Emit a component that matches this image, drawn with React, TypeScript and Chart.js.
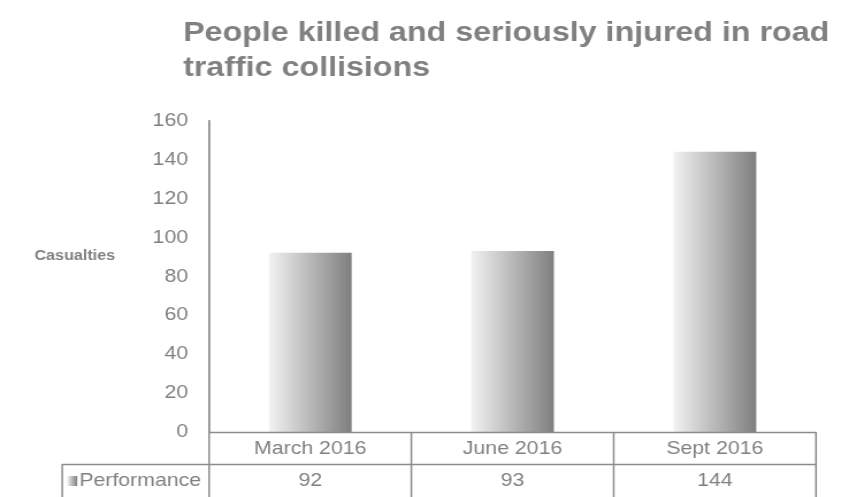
import React, { useEffect, useRef } from "react";
import { Chart, registerables } from "chart.js";

Chart.register(...registerables);

const TITLE_LINES = ["People killed and seriously injured in road", "traffic collisions"];
const Y_TITLE = "Casualties";
const CATEGORIES = ["March 2016", "June 2016", "Sept 2016"];
const SERIES_NAME = "Performance";
const VALUES = [92, 93, 144];
const Y_MIN = 0;
const Y_MAX = 160;
const Y_STEP = 20;

// horizontal stretch of the whole drawing (reference text is wide)
const S = 1.15;
const W = 849;
const H = 497;
const IW = Math.round(W / S);
const X = (v: number) => v / S;

const GREY = "#808080";
const LINE = "#8c8c8c";
const FONT = "'Liberation Sans', Arial, sans-serif";

const tablePlugin = {
  id: "tablePlugin",
  afterDraw(chart: any) {
    const { ctx, chartArea } = chart;
    const xs = chart.scales.x;
    const n = CATEGORIES.length;
    const left = chartArea.left;
    const right = chartArea.right;
    const w = (right - left) / n;
    const row1Top = chartArea.bottom;
    const row2Top = row1Top + 32;
    const bottom = H;

    ctx.save();
    ctx.fillStyle = GREY;
    ctx.font = `18.5px ${FONT}`;
    ctx.textBaseline = "middle";
    ctx.textAlign = "right";
    const textRight = left - X(8);
    ctx.fillText(SERIES_NAME, textRight, row2Top + 17);
    const tw = ctx.measureText(SERIES_NAME).width;
    const ix = textRight - tw - X(12);
    const legendLeft = ix - X(5);

    ctx.strokeStyle = LINE;
    ctx.lineWidth = 1.5;
    ctx.beginPath();
    ctx.moveTo(left, row1Top + 0.5);
    ctx.lineTo(right, row1Top + 0.5);
    ctx.moveTo(legendLeft, row2Top + 0.5);
    ctx.lineTo(right, row2Top + 0.5);
    ctx.moveTo(legendLeft, row2Top);
    ctx.lineTo(legendLeft, bottom);
    ctx.moveTo(left, chartArea.top);
    ctx.lineTo(left, bottom);
    for (let i = 1; i <= n; i++) {
      const x = left + i * w;
      ctx.moveTo(x, row1Top);
      ctx.lineTo(x, bottom);
    }
    ctx.stroke();

    ctx.textAlign = "center";
    for (let i = 0; i < n; i++) {
      const cx = xs.getPixelForValue(i);
      ctx.fillText(CATEGORIES[i], cx, row1Top + 17);
      ctx.fillText(String(VALUES[i]), cx, row2Top + 17);
    }
    const g = ctx.createLinearGradient(ix, 0, ix + X(10), 0);
    g.addColorStop(0, "#f2f2f2");
    g.addColorStop(1, "#7f7f7f");
    ctx.fillStyle = g;
    ctx.fillRect(ix, row2Top + 12, X(10), 10);

    // y title
    ctx.fillStyle = GREY;
    ctx.font = `bold 14px ${FONT}`;
    ctx.textAlign = "right";
    ctx.fillText(Y_TITLE, X(115), 256);

    // chart title
    ctx.font = `bold 28px ${FONT}`;
    ctx.textAlign = "left";
    ctx.fillText(TITLE_LINES[0], X(183), 33);
    ctx.fillText(TITLE_LINES[1], X(183), 68);
    ctx.restore();
  },
};

export default function App() {
  const ref = useRef<HTMLCanvasElement>(null);
  useEffect(() => {
    const canvas = ref.current!;
    const chart = new Chart(canvas, {
      type: "bar",
      data: {
        labels: CATEGORIES,
        datasets: [
          {
            label: SERIES_NAME,
            data: VALUES,
            barThickness: X(82),
            backgroundColor: (c: any) => {
              const ch = c.chart;
              const xs = ch.scales?.x;
              if (!xs || typeof c.dataIndex !== "number") return "#bfbfbf";
              const cx = xs.getPixelForValue(c.dataIndex);
              if (!isFinite(cx)) return "#bfbfbf";
              const half = X(41);
              const g = ch.ctx.createLinearGradient(cx - half, 0, cx + half, 0);
              g.addColorStop(0, "#f2f2f2");
              g.addColorStop(1, "#7f7f7f");
              return g;
            },
            borderWidth: 0,
          },
        ],
      },
      options: {
        animation: false,
        responsive: false,
        devicePixelRatio: 1,
        layout: { padding: { top: 121, right: X(849 - 816), left: 0, bottom: 0 } },
        plugins: { legend: { display: false }, tooltip: { enabled: false }, title: { display: false } },
        scales: {
          x: {
            grid: { display: false },
            border: { display: false },
            ticks: { display: false },
            afterFit: (s: any) => {
              s.height = 65;
            },
          },
          y: {
            min: Y_MIN,
            max: Y_MAX,
            grid: { display: false, drawTicks: false },
            border: { display: true, color: LINE, width: 1.5 },
            ticks: { stepSize: Y_STEP, color: GREY, font: { size: 18.5, family: FONT }, padding: X(21) },
            afterFit: (s: any) => {
              s.width = X(209);
            },
          },
        },
      },
      plugins: [tablePlugin],
    });
    return () => chart.destroy();
  }, []);
  return (
    <div style={{ position: "fixed", left: 0, top: 0, width: W, height: H, background: "#fff", overflow: "hidden" }}>
      <div style={{ width: IW, height: H, transform: `scaleX(${W / IW})`, transformOrigin: "0 0" }}>
        <canvas ref={ref} width={IW} height={H} style={{ display: "block", width: IW, height: H }} />
      </div>
    </div>
  );
}
